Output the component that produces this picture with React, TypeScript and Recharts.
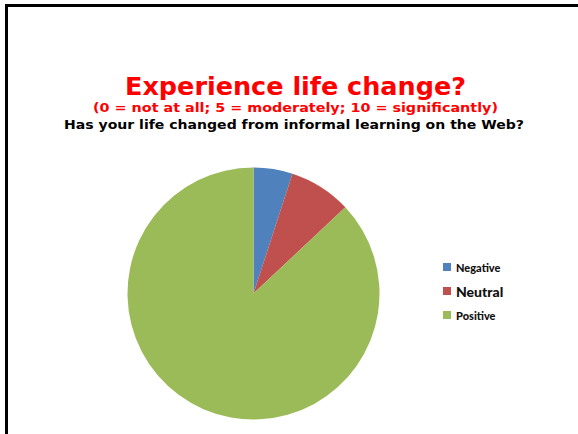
import React from "react";
import { PieChart, Pie, Cell, Legend } from "recharts";

const categories = ["Negative", "Neutral", "Positive"];
const shares = [5, 8, 87];
const colors = ["#4F81BD", "#C0504D", "#9BBB59"];

const data = categories.map((name, i) => ({ name, value: shares[i] }));

function LegendBox({ payload }: any) {
  return (
    <div style={{ fontFamily: "Lato, 'Open Sans', sans-serif", fontWeight: 900 }}>
      {(payload || []).map((p: any) => (
        <div
          key={p.value}
          style={{
            display: "flex",
            alignItems: "center",
            height: 24,
            fontSize: p.value === "Neutral" ? 14 : 11,
            color: "#111",
          }}
        >
          <span
            style={{
              display: "inline-block",
              width: 8,
              height: 8,
              background: p.color,
              marginRight: 5,
            }}
          />
          {p.value}
        </div>
      ))}
    </div>
  );
}

export default function App() {
  return (
    <div style={{ position: "absolute", left: 0, top: 0, width: 578, height: 434, background: "#fff", overflow: "hidden" }}>
      <div
        style={{
          position: "absolute",
          left: 5,
          top: 4,
          width: 600,
          height: 460,
          borderTop: "3px solid #000",
          borderLeft: "3px solid #000",
        }}
      />
      <svg width={578} height={434} style={{ position: "absolute", left: 0, top: 0 }}>
        <text x={295.5} y={95} textAnchor="middle" fill="#FF0000" fontFamily="DejaVu Sans" fontWeight={700} fontSize={25} textLength={341} lengthAdjust="spacingAndGlyphs">
          Experience life change?
        </text>
        <text x={295.5} y={111.5} textAnchor="middle" fill="#FF0000" fontFamily="DejaVu Sans" fontWeight={700} fontSize={12.5} textLength={405} lengthAdjust="spacingAndGlyphs">
          (0 = not at all; 5 = moderately; 10 = significantly)
        </text>
        <text x={294} y={129} textAnchor="middle" fill="#000" fontFamily="DejaVu Sans" fontWeight={700} fontSize={13} textLength={460} lengthAdjust="spacingAndGlyphs">
          Has your life changed from informal learning on the Web?
        </text>
      </svg>
      <div style={{ position: "absolute", left: 0, top: 0 }}>
        <PieChart width={578} height={434} margin={{ top: 0, right: 0, bottom: 0, left: 0 }}>
          <Pie
            data={data}
            dataKey="value"
            nameKey="name"
            cx={253.5}
            cy={293.5}
            outerRadius={126}
            startAngle={90}
            endAngle={-270}
            stroke="none"
            isAnimationActive={false}
          >
            {data.map((d, i) => (
              <Cell key={d.name} fill={colors[i]} />
            ))}
          </Pie>
          <Legend
            layout="vertical"
            content={<LegendBox />}
            wrapperStyle={{ position: "absolute", left: 443, top: 255, width: 100 }}
          />
        </PieChart>
      </div>
    </div>
  );
}
